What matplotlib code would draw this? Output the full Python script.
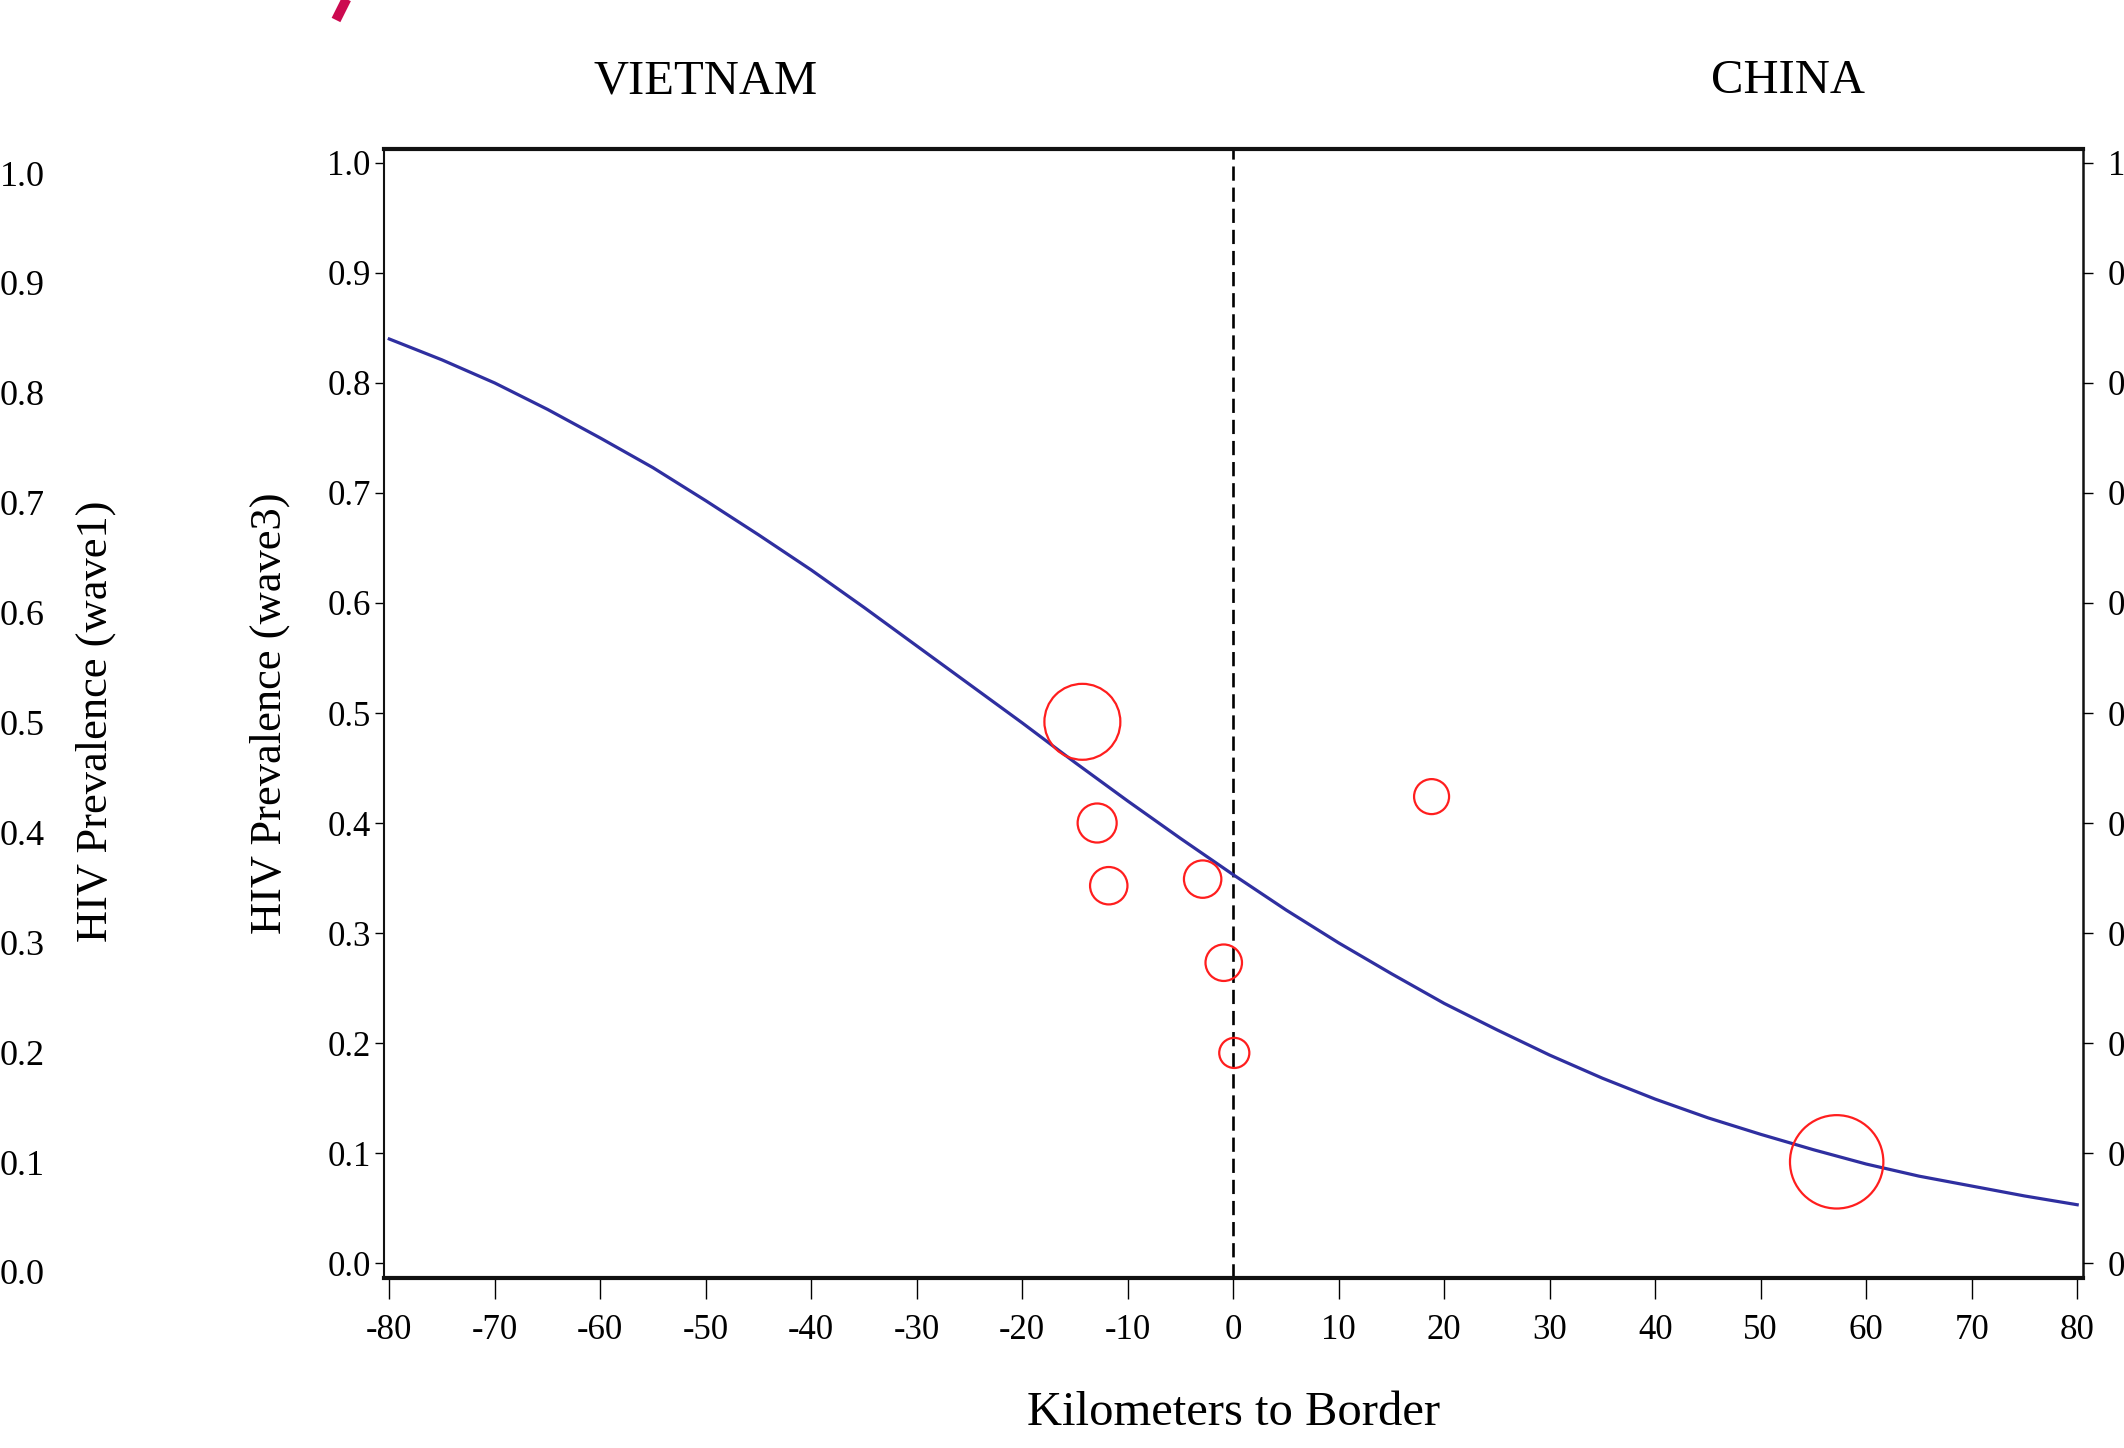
import numpy as np
import matplotlib
matplotlib.use("Agg")
import matplotlib.pyplot as plt
from matplotlib.lines import Line2D

# ---------------- data ----------------
km = [-80, -75, -70, -65, -60, -55, -50, -45, -40, -35, -30, -25, -20, -15,
      -10, -5, 0, 5, 10, 15, 20, 25, 30, 35, 40, 45, 50, 55, 60, 65, 70, 75, 80]
fit_wave3 = [0.840, 0.821, 0.800, 0.776, 0.750, 0.723, 0.693, 0.662, 0.630,
             0.596, 0.561, 0.526, 0.491, 0.455, 0.420, 0.386, 0.353, 0.321,
             0.291, 0.263, 0.236, 0.212, 0.189, 0.168, 0.149, 0.132, 0.117,
             0.103, 0.090, 0.079, 0.070, 0.061, 0.053]

site_km = [-14.3, -12.9, -11.8, -2.9, -0.9, 0.1, 18.8, 57.2]
site_prev = [0.492, 0.400, 0.343, 0.349, 0.273, 0.191, 0.424, 0.092]
site_weight = [2.99, 0.79, 0.725, 0.725, 0.69, 0.47, 0.635, 4.52]

x_ticks = list(range(-80, 81, 10))
y_ticks = [0.0, 0.1, 0.2, 0.3, 0.4, 0.5, 0.6, 0.7, 0.8, 0.9, 1.0]
region_labels = ["VIETNAM", "CHINA"]
region_pos = [-50, 52.6]

xlabel = "Kilometers to Border"
ylabel_w3 = "HIV Prevalence (wave3)"
ylabel_w1 = "HIV Prevalence (wave1)"

# ---------------- style ----------------
plt.rcParams["font.family"] = ["Liberation Serif", "DejaVu Serif"]
plt.rcParams["axes.unicode_minus"] = False

W, H = 2124, 1448
fig = plt.figure(figsize=(W / 100, H / 100), dpi=100)
fig.patch.set_facecolor("white")

# main axes
L, R, T, B = 384, 2083, 149, 1278
ax = fig.add_axes([L / W, 1 - B / H, (R - L) / W, (B - T) / H])
ax.set_xlim(-80.5, 80.55)
ax.set_ylim(-0.0136, 1.0127)

ax.plot(km, fit_wave3, color="#2F2FA0", lw=2.3, zorder=3)
ax.scatter(site_km, site_prev, s=[w * 1000 for w in site_weight],
           facecolors="none", edgecolors="#FF1E1E", linewidths=1.6, zorder=4)
ax.axvline(0, color="black", lw=1.9, dashes=(5.4, 2.6), zorder=2)

ax.set_xticks(x_ticks)
ax.set_xticklabels([str(v) for v in x_ticks])
ax.set_yticks(y_ticks)
ax.set_yticklabels([f"{v:.1f}" for v in y_ticks])
ax.tick_params(axis="x", direction="out", length=15, width=1.0, pad=11,
               labelsize=25)
ax.tick_params(axis="y", direction="out", length=6.5, width=1.0, pad=3,
               labelsize=25)

for side, lw in [("top", 3.0), ("bottom", 3.0), ("left", 1.5), ("right", 1.8)]:
    ax.spines[side].set_linewidth(lw)
    ax.spines[side].set_color("#111111")

ax.set_xlabel(xlabel, fontsize=35)
ax.xaxis.set_label_coords(0.5, -0.1196)
ax.xaxis.label.set_va("center")
ax.set_ylabel(ylabel_w3, fontsize=32)
ax.yaxis.set_label_coords(-0.067, 0.5)
ax.yaxis.label.set_va("center")

for lab, xp in zip(region_labels, region_pos):
    ax.text(xp, 1.060, lab, transform=ax.get_xaxis_transform(),
            ha="center", va="center", fontsize=35)

# right twin axis (cut off by the image edge, as in the reference)
ax2 = ax.twinx()
ax2.set_ylim(ax.get_ylim())
ax2.set_yticks(y_ticks)
ax2.set_yticklabels([f"{v:.1f}" for v in y_ticks])
ax2.tick_params(axis="y", direction="out", length=7, width=1.0, pad=11,
                labelsize=25)
for s in ax2.spines.values():
    s.set_visible(False)

# left axis of the neighbouring wave1 panel (cut off by the image edge)
axl_x = 50
axl = fig.add_axes([axl_x / W, 1 - 1272 / H, 0.01, (1272 - 173) / H])
axl.set_ylim(0, 1)
axl.set_yticks(y_ticks)
axl.set_yticklabels([f"{v:.1f}" for v in y_ticks])
axl.tick_params(axis="y", length=0, pad=4, labelsize=26)
axl.set_xticks([])
for s in axl.spines.values():
    s.set_visible(False)
axl.patch.set_visible(False)
axl.set_ylabel(ylabel_w1, fontsize=32)
axl.yaxis.set_label_position("left")
axl.yaxis.set_label_coords((96 - axl_x) / (0.01 * W), (1272 - 721) / (1272 - 173))
axl.yaxis.label.set_va("center")

# fragment of a crimson glyph at the top edge
fig.add_artist(Line2D([336 / W, 350 / W], [1 - 20 / H, 1 + 8 / H],
                      transform=fig.transFigure, color="#CC0A50", lw=7,
                      solid_capstyle="butt"))

fig.savefig("out.png", dpi=100, facecolor="white")
